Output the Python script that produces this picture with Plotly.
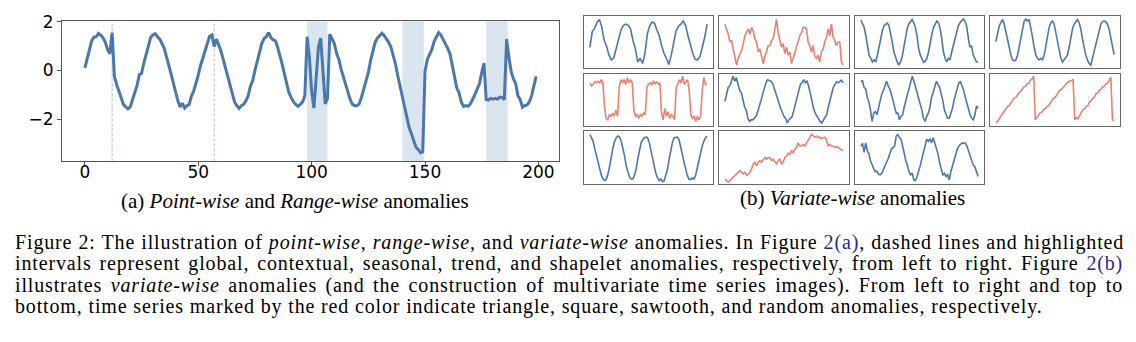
import plotly.graph_objects as go

W, H = 1136, 342

# ---------------- data: main series (a) ----------------
main_x = list(range(200))
main_y = [
    0.10, 0.45, 0.85, 1.22, 1.36, 1.38, 1.52, 1.45, 1.33, 1.15,
    0.85, 0.68, 1.55, -0.25, -0.58, -0.88, -1.18, -1.40, -1.50, -1.58,
    -1.50, -1.18, -0.95, -0.62, -0.18, -0.12, 0.30, 0.65, 1.05, 1.35,
    1.45, 1.50, 1.38, 1.28, 1.10, 0.90, 0.55, 0.25, -0.15, -0.52,
    -0.92, -1.25, -1.50, -1.35, -1.55, -1.45, -1.40, -1.05, -0.85, -0.55,
    -0.20, 0.20, 0.52, 0.82, 1.12, 1.40, 1.45, 0.98, 1.28, 1.05,
    0.80, 0.45, 0.10, -0.25, -0.55, -0.95, -1.30, -1.45, -1.56, -1.45,
    -1.40, -1.25, -1.05, -0.65, -0.42, 0.00, 0.40, 0.78, 1.10, 1.30,
    1.38, 1.55, 1.35, 1.25, 1.22, 0.95, 0.65, 0.25, -0.15, -0.55,
    -0.92, -1.12, -1.30, -1.40, -1.48, -1.40, -1.30, -1.05, 1.38, 0.55,
    -0.85, -1.55, -0.35, 0.95, 1.32, 0.05, -1.38, -1.15, 1.48, 1.30,
    1.10, 0.70, 0.45, 0.05, -0.25, -0.60, -0.92, -1.20, -1.40, -1.45,
    -1.45, -1.38, -1.10, -0.80, -0.50, -0.10, 0.40, 0.80, 1.15, 1.32,
    1.42, 1.52, 1.42, 1.30, 1.15, 0.95, 0.62, 0.25, -0.22, -0.65,
    -1.00, -1.50, -1.95, -2.35, -2.60, -2.90, -3.15, -3.25, -3.38, -3.35,
    -0.05, 0.45, 0.65, 0.85, 1.18, 1.38, 1.55, 1.45, 1.28, 1.12,
    0.90, 0.68, 0.20, -0.40, -0.72, -0.92, -1.30, -1.48, -1.45, -1.48,
    -1.38, -1.20, -1.00, -0.82, -0.55, -0.10, 0.30, -1.20, -1.22, -1.15,
    -1.18, -1.15, -1.18, -1.10, -1.12, -1.20, 1.28, 0.55, -0.05, -0.35,
    -0.55, -1.05, -1.20, -1.52, -1.45, -1.42, -1.30, -1.05, -0.65, -0.25,
]
point_anomalies = [12, 57]                      # dashed lines
range_anomalies = [(98, 107), (140, 149.5), (177, 186.5)]  # shaded spans
x_ticks = [0, 50, 100, 150, 200]
y_ticks = [-2, 0, 2]

# ---------------- data: variate panels (b) ----------------
p11 = [0.40, 0.70, 0.76, 0.88, 0.93, 0.78, 0.53, 0.42, 0.25, 0.16, 0.20, 0.37, 0.56, 0.73, 0.82, 0.84,
       0.82, 0.75, 0.53, 0.37, 0.12, 0.19, 0.09, 0.28, 0.65, 0.81, 0.88, 0.86, 0.73, 0.62, 0.43, 0.28,
       0.19, 0.07, 0.25, 0.50, 0.71, 0.80, 0.84, 0.90, 0.82, 0.62, 0.43, 0.28, 0.17, 0.16, 0.22, 0.39,
       0.59, 0.84]
p12 = [0.84, 0.75, 0.65, 0.50, 0.53, 0.37, 0.19, 0.06, 0.19, 0.25, 0.34, 0.47, 0.62, 0.68, 0.75, 0.65,
       0.78, 0.71, 0.56, 0.50, 0.31, 0.37, 0.25, 0.09, 0.22, 0.31, 0.43, 0.43, 0.53, 0.56, 0.75, 0.93,
       0.68, 0.50, 0.40, 0.47, 0.28, 0.40, 0.25, 0.31, 0.09, 0.19, 0.31, 0.43, 0.53, 0.62, 0.68, 0.78,
       0.78, 0.75, 0.50, 0.43, 0.31, 0.43, 0.22, 0.19, 0.25, 0.12, 0.31, 0.37, 0.50, 0.59, 0.75, 0.62,
       0.84, 0.59, 0.53, 0.43, 0.50, 0.50, 0.12, 0.06]
p13 = [0.92, 0.84, 0.78, 0.62, 0.43, 0.25, 0.19, 0.12, 0.16, 0.12, 0.25, 0.43, 0.59, 0.71, 0.81, 0.84,
       0.86, 0.82, 0.68, 0.50, 0.31, 0.19, 0.12, 0.06, 0.12, 0.22, 0.40, 0.59, 0.75, 0.84, 0.90, 0.93,
       0.87, 0.78, 0.62, 0.37, 0.25, 0.16, 0.11, 0.14, 0.19, 0.31, 0.50, 0.65, 0.78, 0.84, 0.90, 0.87,
       0.75, 0.56, 0.31, 0.19, 0.12, 0.19, 0.16, 0.31, 0.43, 0.59, 0.71, 0.81, 0.87, 0.90, 0.94, 0.90,
       0.81, 0.59, 0.40, 0.43, 0.25, 0.19, 0.12, 0.12]
p14 = [0.51, 0.65, 0.81, 0.87, 0.93, 0.84, 0.71, 0.56, 0.40, 0.25, 0.16, 0.14, 0.16, 0.25, 0.43, 0.62,
       0.78, 0.90, 0.94, 0.90, 0.93, 0.78, 0.59, 0.40, 0.25, 0.19, 0.16, 0.19, 0.16, 0.25, 0.43, 0.62,
       0.78, 0.87, 0.90, 0.84, 0.68, 0.50, 0.31, 0.19, 0.12, 0.16, 0.19, 0.25, 0.40, 0.59, 0.75, 0.84,
       0.90, 0.93, 0.87, 0.75, 0.56, 0.37, 0.25, 0.16, 0.09, 0.06, 0.19, 0.31, 0.43, 0.59, 0.75, 0.84,
       0.89, 0.90, 0.89, 0.84, 0.75, 0.56, 0.37, 0.26]
p21 = [0.83, 0.77, 0.80, 0.85, 0.83, 0.86, 0.83, 0.89, 0.83, 0.36, 0.14, 0.11, 0.21, 0.18, 0.24, 0.18,
       0.30, 0.18, 0.74, 0.89, 0.83, 0.89, 0.80, 0.93, 0.83, 0.89, 0.83, 0.30, 0.18, 0.21, 0.14, 0.21,
       0.18, 0.24, 0.21, 0.74, 0.80, 0.83, 0.80, 0.86, 0.81, 0.85, 0.80, 0.83, 0.24, 0.11, 0.33, 0.18,
       0.27, 0.14, 0.21, 0.18, 0.11, 0.74, 0.80, 0.89, 0.83, 0.96, 0.80, 0.86, 0.89, 0.68, 0.21, 0.14,
       0.18, 0.08, 0.18, 0.11, 0.18, 0.68, 0.93, 0.80, 0.80]
p22 = [0.47, 0.61, 0.74, 0.77, 0.89, 0.96, 0.86, 0.93, 0.80, 0.68, 0.64, 0.52, 0.36, 0.30, 0.14, 0.08,
       0.11, 0.11, 0.14, 0.18, 0.27, 0.36, 0.49, 0.61, 0.74, 0.83, 0.89, 0.88, 0.86, 0.83, 0.74, 0.64,
       0.52, 0.43, 0.33, 0.24, 0.18, 0.14, 0.05, 0.11, 0.14, 0.18, 0.30, 0.43, 0.55, 0.68, 0.80, 0.83,
       0.89, 0.83, 0.86, 0.77, 0.61, 0.49, 0.33, 0.24, 0.18, 0.11, 0.08, 0.05, 0.11, 0.14, 0.21, 0.36,
       0.49, 0.61, 0.74, 0.80, 0.85, 0.83, 0.86, 0.88, 0.83]
p23 = [0.85, 0.88, 0.74, 0.71, 0.55, 0.46, 0.30, 0.08, 0.24, 0.27, 0.21, 0.36, 0.49, 0.61, 0.68, 0.77,
       0.86, 0.77, 0.71, 0.61, 0.49, 0.36, 0.24, 0.24, 0.11, 0.18, 0.21, 0.36, 0.49, 0.61, 0.74, 0.83,
       0.96, 0.86, 0.77, 0.64, 0.52, 0.43, 0.30, 0.14, 0.08, 0.18, 0.24, 0.36, 0.55, 0.64, 0.74, 0.86,
       0.80, 0.74, 0.61, 0.49, 0.30, 0.21, 0.14, 0.14, 0.24, 0.33, 0.49, 0.61, 0.71, 0.83, 0.85, 0.77,
       0.68, 0.55, 0.43, 0.30, 0.21, 0.14, 0.11, 0.21, 0.38, 0.33]
p24 = [0.05, 0.09, 0.12, 0.19, 0.22, 0.28, 0.31, 0.37, 0.38, 0.44, 0.48, 0.53, 0.54, 0.59, 0.62, 0.67,
       0.70, 0.75, 0.76, 0.81, 0.82, 0.88, 0.90, 0.96, 0.11, 0.15, 0.20, 0.25, 0.26, 0.31, 0.32, 0.37,
       0.38, 0.44, 0.48, 0.53, 0.54, 0.59, 0.62, 0.69, 0.70, 0.75, 0.78, 0.82, 0.84, 0.87, 0.87, 0.90,
       0.11, 0.15, 0.13, 0.19, 0.23, 0.31, 0.32, 0.37, 0.38, 0.46, 0.48, 0.53, 0.55, 0.62, 0.63, 0.69,
       0.70, 0.75, 0.76, 0.81, 0.82, 0.88, 0.94, 0.11, 0.10]
p31 = [0.94, 0.88, 0.81, 0.66, 0.53, 0.38, 0.25, 0.16, 0.09, 0.06, 0.09, 0.19, 0.34, 0.53, 0.69, 0.81,
       0.88, 0.91, 0.89, 0.81, 0.69, 0.53, 0.34, 0.22, 0.13, 0.09, 0.09, 0.16, 0.28, 0.47, 0.63, 0.78,
       0.84, 0.88, 0.89, 0.88, 0.78, 0.63, 0.47, 0.31, 0.19, 0.11, 0.06, 0.09, 0.04, 0.06, 0.16, 0.28,
       0.47, 0.66, 0.79, 0.88, 0.89, 0.89, 0.84, 0.72, 0.56, 0.41, 0.25, 0.16, 0.09, 0.08, 0.11, 0.09,
       0.16, 0.31, 0.47, 0.59, 0.72, 0.81, 0.88, 0.91]
p32 = [0.09, 0.06, 0.03, 0.06, 0.09, 0.13, 0.16, 0.19, 0.22, 0.25, 0.22, 0.19, 0.22, 0.16, 0.19, 0.22,
       0.28, 0.38, 0.41, 0.34, 0.41, 0.44, 0.41, 0.47, 0.50, 0.47, 0.50, 0.50, 0.44, 0.47, 0.41, 0.38,
       0.44, 0.47, 0.38, 0.41, 0.50, 0.53, 0.58, 0.56, 0.63, 0.59, 0.66, 0.69, 0.78, 0.72, 0.72, 0.75,
       0.72, 0.77, 0.81, 0.88, 0.94, 0.91, 0.89, 0.91, 0.88, 0.89, 0.86, 0.88, 0.89, 0.84, 0.72, 0.75,
       0.72, 0.72, 0.69, 0.71, 0.69, 0.67, 0.66, 0.63]
p33 = [0.72, 0.77, 0.60, 0.78, 0.63, 0.57, 0.44, 0.35, 0.29, 0.23, 0.24, 0.18, 0.17, 0.20, 0.26, 0.35,
       0.41, 0.48, 0.57, 0.66, 0.69, 0.72, 0.91, 0.94, 0.88, 0.85, 0.72, 0.57, 0.44, 0.35, 0.23, 0.17,
       0.20, 0.07, 0.06, 0.14, 0.23, 0.35, 0.48, 0.63, 0.72, 0.85, 0.81, 0.86, 0.78, 0.88, 0.78, 0.69,
       0.57, 0.41, 0.29, 0.17, 0.20, 0.14, 0.17, 0.07, 0.23, 0.35, 0.44, 0.57, 0.66, 0.72, 0.75, 0.78,
       0.77, 0.78, 0.72, 0.63, 0.51, 0.44, 0.35, 0.32, 0.23, 0.14]

panels = [  # (row, col, series, is_anomalous)
    (0, 0, p11, False), (0, 1, p12, True), (0, 2, p13, False), (0, 3, p14, False),
    (1, 0, p21, True), (1, 1, p22, False), (1, 2, p23, False), (1, 3, p24, True),
    (2, 0, p31, False), (2, 1, p32, True), (2, 2, p33, False),
]

caption_a = "(a) <i>Point-wise</i> and <i>Range-wise</i> anomalies"
caption_b = "(b) <i>Variate-wise</i> anomalies"
LINK = "#1f2a8a"
caption_lines = [
    "Figure 2: The illustration of <i>point-wise</i>, <i>range-wise</i>, and <i>variate-wise</i> anomalies. In Figure "
    f"<span style='color:{LINK}'>2(a)</span>, dashed lines and highlighted",
    "intervals represent global, contextual, seasonal, trend, and shapelet anomalies, respectively, from left to right. Figure "
    f"<span style='color:{LINK}'>2(b)</span>",
    "illustrates <i>variate-wise</i> anomalies (and the construction of multivariate time series images). From left to right and top to",
    "bottom, time series marked by the red color indicate triangle, square, sawtooth, and random anomalies, respectively.",
]
caption_word_spacing = [0.3, 2.1, 2.7, 0.0]   # justification of the caption block

# ---------------- styling ----------------
BLUE = "#4a78ad"
RED = "#ea8270"
SHADE = "#dbe5ef"
FRAME = "#555555"


def px_x(p):
    return p / W


def px_y(p):
    return 1 - p / H


fig = go.Figure()
layout = dict(
    width=W, height=H, margin=dict(l=0, r=0, t=0, b=0),
    paper_bgcolor="white", plot_bgcolor="white", showlegend=False,
)

# main axes
layout["xaxis"] = dict(
    domain=[px_x(62), px_x(559)], range=[-10.1, 209.1], tickvals=x_ticks,
    showgrid=False, zeroline=False, showline=True, mirror=True, linecolor=FRAME, linewidth=1,
    ticks="outside", ticklen=4, tickcolor=FRAME, ticklabelstandoff=-9,
    tickfont=dict(family="DejaVu Sans", size=17, color="black"), anchor="y",
)
layout["yaxis"] = dict(
    domain=[px_y(156), px_y(11.7)], range=[-3.74, 2.01], tickvals=y_ticks,
    ticktext=["\u22122", "0", "2"],
    showgrid=False, zeroline=False, showline=True, mirror=True, linecolor=FRAME, linewidth=1,
    ticks="outside", ticklen=4, tickcolor=FRAME,
    tickfont=dict(family="DejaVu Sans", size=17, color="black"), anchor="x",
)

shapes = []
for (a, b) in range_anomalies:
    shapes.append(dict(type="rect", xref="x", yref="y domain", x0=a, x1=b, y0=0, y1=1,
                       fillcolor=SHADE, line=dict(width=0), layer="below"))
for p in point_anomalies:
    shapes.append(dict(type="line", xref="x", yref="y domain", x0=p, x1=p, y0=0, y1=1,
                       line=dict(color="#9dbbdc", width=1, dash="3px,2px"), layer="below"))

fig.add_trace(go.Scatter(x=main_x, y=main_y, mode="lines",
                         line=dict(color=BLUE, width=3), xaxis="x", yaxis="y", hoverinfo="skip"))

col_px = [(584, 713), (719, 849), (855, 984), (990, 1120)]
row_px = [(6, 60), (66, 119), (125, 179)]

for i, (r, c, series, anom) in enumerate(panels):
    k = i + 2
    n = len(series)
    xa, ya = f"x{k}", f"y{k}"
    layout[f"xaxis{k}"] = dict(
        domain=[px_x(col_px[c][0]), px_x(col_px[c][1])],
        range=[-0.05 * (n - 1), 1.05 * (n - 1)], anchor=ya,
        showticklabels=False, ticks="", showgrid=False, zeroline=False,
        showline=True, mirror=True, linecolor="#666666", linewidth=1.2,
    )
    layout[f"yaxis{k}"] = dict(
        domain=[px_y(row_px[r][1]), px_y(row_px[r][0])],
        range=[0, 1], anchor=xa,
        showticklabels=False, ticks="", showgrid=False, zeroline=False,
        showline=True, mirror=True, linecolor="#666666", linewidth=1.2,
    )
    fig.add_trace(go.Scatter(x=list(range(n)), y=series, mode="lines",
                             line=dict(color=RED if anom else BLUE, width=1.6),
                             xaxis=xa, yaxis=ya, hoverinfo="skip"))

SERIF = "Liberation Serif"
annotations = [
    dict(text=caption_a, x=px_x(295), y=px_y(197), xref="paper", yref="paper",
         xanchor="center", yanchor="middle", showarrow=False,
         font=dict(family=SERIF, size=21, color="black")),
    dict(text=caption_b, x=px_x(852), y=px_y(194), xref="paper", yref="paper",
         xanchor="center", yanchor="middle", showarrow=False,
         font=dict(family=SERIF, size=21, color="black")),
]
line_y = [239.3, 261.5, 283.7, 305.9]
for t, yy, ws in zip(caption_lines, line_y, caption_word_spacing):
    txt = f"<span style='letter-spacing:0.85px;word-spacing:{ws}px'>{t}</span>"
    annotations.append(dict(text=txt, x=px_x(13), y=px_y(yy), xref="paper", yref="paper",
                            xanchor="left", yanchor="middle", showarrow=False,
                            font=dict(family=SERIF, size=20, color="black")))

layout["shapes"] = shapes
layout["annotations"] = annotations
fig.update_layout(**layout)
fig.write_html("out.html")
